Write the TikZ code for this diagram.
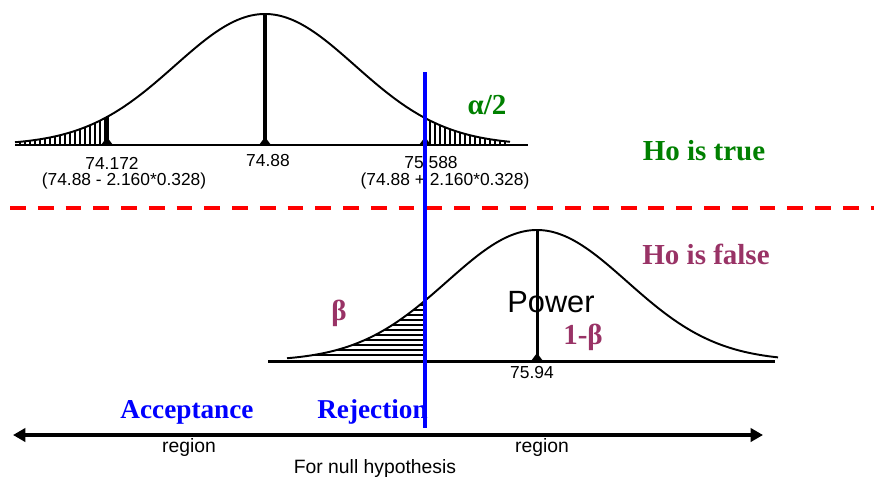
\documentclass[tikz,border=0pt]{standalone}
\usepackage{fontspec}
\setmainfont{Liberation Serif}
\setsansfont{Liberation Sans}
\usetikzlibrary{arrows.meta,calc}
\definecolor{truegreen}{RGB}{0,128,0}
\definecolor{falseplum}{RGB}{153,51,102}
\pgfmathdeclarefunction{bell}{1}{\pgfmathparse{131*exp(-((#1)/90)^2/2)}}
\tikzset{
    curve/.style={black, line width=1.1pt},
    baseaxis/.style={black, line width=1.2pt},
    hatch/.style={black, line width=0.9pt},
    meanline/.style={black, line width=2pt},
    cutline/.style={blue, line width=2.8pt},
    splitline/.style={red, line width=2.3pt, dash pattern=on 9pt off 6.8pt},
    numlabel/.style={font=\sffamily\fontsize{9.9}{11}\selectfont, inner sep=0pt},
    wordlabel/.style={font=\sffamily\fontsize{11}{13}\selectfont, inner sep=0pt},
    caselabel/.style={font=\bfseries\fontsize{16.5}{18}\selectfont, inner sep=0pt},
    regionlabel/.style={font=\bfseries\fontsize{15.5}{18}\selectfont, text=blue, inner sep=0pt}
}

\begin{document}
\begin{tikzpicture}[x=0.02cm, y=-0.02cm]
    \useasboundingbox (0,0) rectangle (874,477);

    % Ho true
    \draw[baseaxis] (15,145) -- (528,145);
    \draw[curve] plot[domain=15:510, samples=150, smooth] (\x, {145-bell(\x-265)});
    \foreach \x in {20,25,...,105}
        \draw[hatch] (\x,145) -- (\x,{145-bell(\x-265)});
    \foreach \x in {430,435,...,505}
        \draw[hatch] (\x,145) -- (\x,{145-bell(\x-265)});
    \draw[line width=1.8pt] (107,145) -- (107,{145-bell(107-265)});
    \draw[line width=1.8pt] (425,145) -- (425,{145-bell(425-265)});
    \draw[meanline] (265,145) -- (265,14);
    \foreach \x in {107,265,425}
        \fill (\x-6,145) -- (\x,137) -- (\x+6,145) -- cycle;

    \node[numlabel] (lowcut) at (112,163) {74.172};
    \node[numlabel] (lowcalc) at (124,181) {(74.88 - 2.160*0.328)};
    \node[numlabel] (nullmean) at (268,161) {74.88};
    \node[numlabel] (highcut) at (431,163) {75.588};
    \node[numlabel] (highcalc) at (445,181) {(74.88 + 2.160*0.328)};
    \node[caselabel, text=truegreen] (alpha) at (487,105) {α/2};
    \node[caselabel, text=truegreen] (hotrue) at (704,151) {Ho is true};

    \draw[splitline] (10,208) -- (874,208);

    % Ho false
    \draw[line width=1.7pt] (268,361) -- (775,361);
    \draw[curve] plot[domain=287:778, samples=150, smooth] (\x, {361-bell(\x-537)});
    \foreach \y in {305,310,...,355}
        \draw[hatch] ({537-90*sqrt(2*ln(131/(361-\y)))},\y) -- (424,\y);
    \draw[black, line width=1.7pt] (537,361) -- (537,230);
    \fill (531,361) -- (537,353) -- (543,361) -- cycle;

    \node[caselabel, text=falseplum] (hofalse) at (706,254) {Ho is false};
    \node[caselabel, text=falseplum] (beta) at (339,313) {β};
    \node[font=\sffamily\fontsize{17.5}{20}\selectfont, inner sep=0pt] (power) at (551,302) {Power};
    \node[caselabel, text=falseplum] (onebeta) at (583,337) {1-β};
    \node[numlabel] (altmean) at (532,373) {75.94};

    % decision regions
    \coordinate (leftend) at (13,435);
    \coordinate (rightend) at (763,435);
    \draw[line width=1.8pt, {Triangle[length=7pt, width=7.5pt]}-{Triangle[length=7pt, width=7.5pt]}] (leftend) -- (rightend);
    \node[regionlabel] (accept) at (187,412) {Acceptance};
    \node[regionlabel, anchor=east] (reject) at (428,412) {Rejection};
    \node[wordlabel] (accregion) at (189,447) {region};
    \node[wordlabel] (rejregion) at (542,447) {region};
    \node[wordlabel] (nullhyp) at (375,468) {For null hypothesis};

    \coordinate (cuttop) at (425,72);
    \coordinate (cutbottom) at (425,428);
    \draw[cutline] (cuttop) -- (cutbottom);
\end{tikzpicture}
\end{document}
